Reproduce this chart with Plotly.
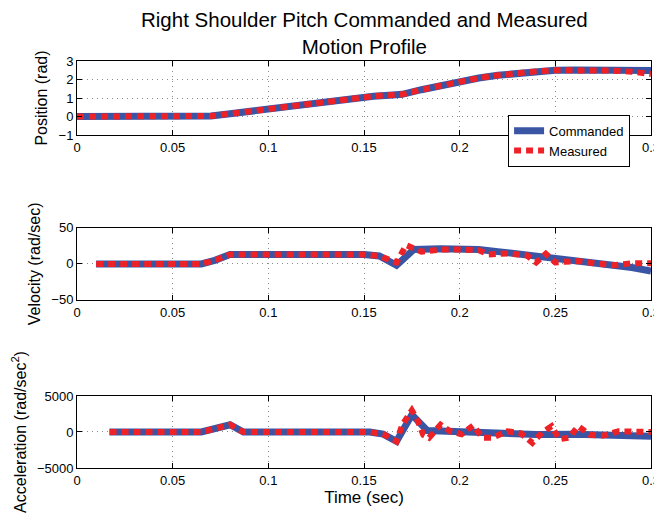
import plotly.graph_objects as go
from plotly.subplots import make_subplots

# ---- Position (rad) ----
pos_cmd_t = [0, 0.065, 0.07, 0.08, 0.1, 0.12, 0.14, 0.155, 0.165, 0.17, 0.18, 0.19, 0.2, 0.21, 0.22,
             0.23, 0.24, 0.25, 0.26, 0.27, 0.28, 0.29, 0.3]
pos_cmd = [0, 0, 0.03, 0.15, 0.42, 0.68, 0.93, 1.1, 1.17, 1.2, 1.45, 1.68, 1.9, 2.08, 2.23,
           2.35, 2.44, 2.5, 2.52, 2.52, 2.51, 2.5, 2.49]
pos_meas_t = [0, 0.065, 0.07, 0.08, 0.1, 0.12, 0.14, 0.155, 0.165, 0.17, 0.18, 0.19, 0.2, 0.21, 0.22,
              0.23, 0.24, 0.25, 0.26, 0.27, 0.28, 0.29, 0.3]
pos_meas = [0, 0, 0.03, 0.15, 0.42, 0.68, 0.93, 1.1, 1.17, 1.2, 1.45, 1.68, 1.9, 2.08, 2.23,
            2.35, 2.44, 2.5, 2.52, 2.51, 2.48, 2.42, 2.3]

# ---- Velocity (rad/sec) ----
vel_cmd_t = [0.01, 0.065, 0.072, 0.08, 0.15, 0.158, 0.167, 0.176, 0.19, 0.2, 0.21, 0.22, 0.23,
             0.24, 0.25, 0.26, 0.27, 0.28, 0.29, 0.3]
vel_cmd = [0, 0, 5, 13, 13, 11, -2, 20, 21, 21, 20, 17, 14, 11, 7, 4, 2, -1, -5, -10]
vel_meas_t = [0.01, 0.065, 0.072, 0.08, 0.15, 0.158, 0.167, 0.172, 0.18, 0.19, 0.2, 0.21, 0.215,
              0.225, 0.235, 0.24, 0.245, 0.25, 0.255, 0.262, 0.27, 0.28, 0.29, 0.3]
vel_meas = [0, 0, 5, 13, 13, 11, 2, 26, 17, 20, 20, 19, 13, 14.5, 12, 2, 14, 2, 3, 4, 1, -2, 1, 1]

# ---- Acceleration (rad/sec^2) ----
acc_cmd_t = [0.017, 0.065, 0.08, 0.087, 0.153, 0.16, 0.167, 0.175, 0.183, 0.2, 0.22, 0.24, 0.26,
             0.28, 0.3]
acc_cmd = [0, 0, 1000, 0, 0, -300, -1300, 2400, 200, 50, -200, -350, -300, -350, -600]
acc_meas_t = [0.017, 0.065, 0.08, 0.087, 0.153, 0.16, 0.167, 0.17, 0.175, 0.178, 0.181, 0.184,
              0.19, 0.195, 0.201, 0.207, 0.212, 0.217, 0.225, 0.232, 0.238, 0.243, 0.248,
              0.252, 0.257, 0.262, 0.268, 0.275, 0.283, 0.29, 0.3]
acc_meas = [0, 0, 1000, 0, 0, -300, -1300, 1000, 3000, 1600, -400, -800, 1000, 100, -300, 900,
            -800, -800, 100, -200, -1500, -100, 800, -1000, -800, 800, -400, -500, 100, 100, 0]

title_text = "Right Shoulder Pitch Commanded and Measured<br>Motion Profile"
y_titles = ["Position (rad)", "Velocity (rad/sec)", "Acceleration (rad/sec<sup>2</sup>)"]
x_title = "Time (sec)"

BLUE = "#3a55a4"
RED = "#ee2127"
FONT = "Liberation Sans, Arial, sans-serif"

fig = make_subplots(rows=3, cols=1)

data = [(pos_cmd_t, pos_cmd, pos_meas_t, pos_meas),
        (vel_cmd_t, vel_cmd, vel_meas_t, vel_meas),
        (acc_cmd_t, acc_cmd, acc_meas_t, acc_meas)]
for i, (tc, yc, tm, ym) in enumerate(data):
    fig.add_trace(go.Scatter(x=tc, y=yc, mode="lines", name="Commanded",
                             line=dict(color=BLUE, width=7), showlegend=(i == 0)),
                  row=i + 1, col=1)
    fig.add_trace(go.Scatter(x=tm, y=ym, mode="lines", name="Measured",
                             line=dict(color=RED, width=6, dash="7px,5px"),
                             showlegend=(i == 0)),
                  row=i + 1, col=1)

domains = [[0.818, 1.0], [0.413, 0.590], [0.0, 0.177]]
yranges = [[-1, 3], [-50, 50], [-5000, 5000]]
ydticks = [1, 50, 5000]

axis_common = dict(showline=True, linecolor="black", linewidth=1, mirror="ticks",
                   ticks="inside", ticklen=5, tickcolor="black", automargin=False,
                   showgrid=True, gridcolor="#8c8c8c", griddash="1px,4px", gridwidth=1,
                   zeroline=False, tickfont=dict(size=13, color="black", family=FONT))

for i in range(3):
    fig.update_yaxes(row=i + 1, col=1, domain=domains[i], range=yranges[i], dtick=ydticks[i],
                     title=dict(text=y_titles[i], font=dict(size=16, family=FONT, color="black"),
                                standoff=6),
                     **axis_common)
    fig.update_xaxes(row=i + 1, col=1, range=[0, 0.3], dtick=0.05, **axis_common)

fig.update_xaxes(row=3, col=1, title=dict(text=x_title, font=dict(size=17, family=FONT, color="black"),
                                          standoff=4))

fig.add_annotation(text=title_text, xref="paper", yref="paper", x=0.5, y=1.006,
                   xanchor="center", yanchor="bottom", showarrow=False, borderpad=0,
                   font=dict(size=20.5, family=FONT, color="black"))

# the page body adds an 8px offset, so the figure is 8px smaller on each side
fig.update_layout(
    width=654, height=515,
    margin=dict(l=69, r=11, t=53, b=55),
    paper_bgcolor="white", plot_bgcolor="white",
    font=dict(family=FONT, color="black"),
    legend=dict(x=0.751, y=0.868, xanchor="left", yanchor="top",
                bgcolor="white", bordercolor="black", borderwidth=1,
                font=dict(size=13, family=FONT, color="black"),
                tracegroupgap=0, itemwidth=30),
)

fig.write_html("out.html")
